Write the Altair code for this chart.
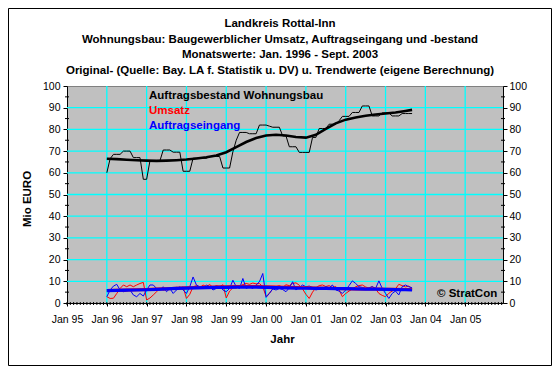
import altair as alt
import pandas as pd

FONT = "Liberation Sans"

# ---------------- data ----------------
# monthly values Jan 1996 .. Sep 2003 (93 months); month index counted from Jan 1995
start_index = 12
auftragsbestand = [
    60, 66.5, 68.5, 68.5, 68.5, 70, 70, 70, 67, 67, 67, 57,
    57, 65.5, 65.5, 65.5, 65.5, 70.5, 70.5, 70.5, 69.5, 69.5, 69.5, 60.7,
    60.7, 60.7, 66.7, 66.7, 66.7, 66.7, 66.7, 67.5, 67.5, 67.5, 67.5, 62.2,
    62.2, 62.2, 69.7, 75, 78.6, 78.6, 78.6, 78, 78, 78, 82, 82,
    82, 81.5, 81, 81, 81, 77, 77, 72, 72, 72, 69.4, 69.4,
    69.4, 69.4, 76.3, 76.3, 80.4, 80.4, 80.4, 82.4, 82.4, 82.4, 84, 86,
    86, 86, 87.8, 87.8, 87.8, 90.8, 90.8, 90.8, 86.2, 86.2, 86.2, 87.6,
    87.6, 87.6, 86.2, 86.2, 86.2, 87.3, 87.3, 87.3, 87.3,
]
umsatz = [
    2.9, 2.1, 2.2, 4.4, 6.7, 8.3, 7.5, 8.3, 7.5, 8.3, 9.0, 9.5,
    1.4, 2.3, 3.7, 5.2, 6.7, 6.0, 6.2, 7.0, 6.5, 7.2, 6.8, 7.4,
    2.1, 4.0, 7.5, 8.0, 7.0, 8.3, 7.5, 8.5, 7.2, 8.0, 7.6, 8.4,
    2.3, 5.5, 7.0, 6.8, 7.8, 8.5, 9.0, 8.6, 9.2, 8.8, 9.0, 7.5,
    3.0, 4.5, 6.5, 7.5, 8.0, 7.2, 8.4, 8.0, 9.0, 9.3, 8.2, 6.5,
    4.0, 2.1, 5.0, 7.0, 8.0, 8.3, 7.6, 8.0, 7.2, 7.6, 6.0, 2.9,
    4.4, 5.5, 6.5, 7.5, 8.0, 8.3, 7.4, 6.8, 7.6, 6.5, 4.4, 3.5,
    2.9, 4.5, 5.5, 6.5, 8.6, 8.0, 7.4, 7.8, 6.7,
]
auftragseingang = [
    2.9, 6.0, 7.8, 8.6, 6.0, 5.2, 5.5, 6.0, 3.7, 2.9, 4.4, 3.2,
    6.0, 8.3, 8.3, 6.7, 6.0, 7.5, 5.2, 6.7, 4.4, 6.0, 7.5, 6.0,
    4.4, 7.5, 12.0, 8.3, 7.5, 6.7, 8.3, 7.5, 6.0, 6.7, 7.8, 6.0,
    5.2, 6.7, 10.5, 7.5, 6.7, 11.3, 6.7, 7.5, 6.7, 8.3, 9.8, 13.6,
    2.6, 4.4, 6.5, 6.0, 6.7, 6.2, 5.2, 7.0, 9.8, 6.0, 7.2, 8.3,
    7.5, 7.8, 7.2, 6.0, 6.4, 6.7, 7.5, 7.0, 8.3, 6.0, 5.5, 4.4,
    6.0, 8.0, 10.2, 9.0, 7.5, 7.2, 6.7, 7.0, 7.5, 6.7, 10.2, 6.7,
    4.4, 2.1, 4.4, 5.5, 3.7, 7.5, 8.3, 7.5, 7.0,
]
# trend values (read every 3rd month + last month)
trend_offsets = [0, 3, 6, 9, 12, 15, 18, 21, 24, 27, 30, 33, 36, 39, 42, 45,
                 48, 51, 54, 57, 60, 63, 66, 69, 72, 75, 78, 81, 84, 87, 90, 92]
trend_bestand = [66.5, 66.3, 66.0, 65.8, 65.6, 65.5, 65.6, 65.8, 66.1, 66.6, 67.2, 68.0,
                 69.5, 71.8, 74.2, 76.0, 77.2, 77.5, 77.2, 76.5, 76.2, 77.5, 80.2, 82.8,
                 84.5, 85.5, 86.3, 86.9, 87.3, 87.8, 88.5, 89.0]
trend_umsatz = [5.8, 5.9, 6.0, 6.1, 6.2, 6.4, 6.6, 6.8, 7.0, 7.2, 7.3, 7.4,
                7.5, 7.6, 7.6, 7.6, 7.5, 7.4, 7.3, 7.2, 7.0, 6.9, 6.8, 6.7,
                6.6, 6.5, 6.5, 6.4, 6.3, 6.3, 6.2, 6.2]
trend_eingang = [5.7, 5.8, 5.9, 6.0, 6.1, 6.3, 6.5, 6.7, 6.9, 7.0, 7.1, 7.2,
                 7.2, 7.3, 7.3, 7.3, 7.2, 7.1, 7.0, 6.9, 6.8, 6.7, 6.7, 6.6,
                 6.6, 6.5, 6.4, 6.4, 6.3, 6.2, 6.1, 6.0]

title_lines = [
    "Landkreis Rottal-Inn",
    "Wohnungsbau: Baugewerblicher Umsatz, Auftragseingang und -bestand",
    "Monatswerte: Jan. 1996 - Sept. 2003",
    "Original- (Quelle: Bay. LA f. Statistik u. DV) u. Trendwerte (eigene Berechnung)",
]
legend_texts = ["Auftragsbestand Wohnungsbau", "Umsatz", "Auftragseingang"]
legend_colors = ["black", "#FF0000", "#0000FF"]
year_ticks = list(range(0, 121, 12))        # Jan 95 .. Jan 05
y_ticks = list(range(0, 101, 10))
y_minor = list(range(5, 100, 10))
grid_y = list(range(10, 91, 10))
grid_x = list(range(12, 121, 12))
month_ticks = list(range(0, 132))

# ---------------- layout ----------------
W, H = 436, 217
XMAX = 131.4
xs = alt.Scale(domain=[0, XMAX], nice=False, zero=False)
ys = alt.Scale(domain=[0, 100], nice=False)

def series_df(offsets, values):
    return pd.DataFrame({"m": [start_index + o for o in offsets], "v": values})

monthly_off = list(range(len(auftragsbestand)))
df_best = series_df(monthly_off, auftragsbestand)
df_ums = series_df(monthly_off, umsatz)
df_ein = series_df(monthly_off, auftragseingang)
df_tb = series_df(trend_offsets, trend_bestand)
df_tu = series_df(trend_offsets, trend_umsatz)
df_te = series_df(trend_offsets, trend_eingang)

x_axis = alt.Axis(values=year_ticks,
                  labelExpr="'Jan ' + format((datum.value / 12 + 95) % 100, '02d')",
                  tickSize=3, tickColor="black", domainColor="black",
                  labelColor="black", labelFont=FONT, labelFontSize=10.5,
                  labelPadding=8, grid=False, title=None, labelFlush=False,
                  labelOverlap=False)
left_axis = alt.Axis(orient="left", values=y_ticks, tickSize=4, tickColor="black",
                     domainColor="black", labelColor="black", labelFont=FONT,
                     labelFontSize=10.5, labelPadding=3, grid=False, title=None)
right_axis = alt.Axis(orient="right", values=y_ticks, tickSize=4, tickColor="black",
                      domainColor="black", labelColor="black", labelFont=FONT,
                      labelFontSize=10.5, labelPadding=2, grid=False, title=None)

vgrid = alt.Chart(pd.DataFrame({"m": grid_x})).mark_rule(color="#00FFFF", strokeWidth=1.3).encode(
    x=alt.X("m:Q", scale=xs, axis=x_axis), y=alt.value(0), y2=alt.value(H))
hgrid = alt.Chart(pd.DataFrame({"v": grid_y})).mark_rule(color="#00FFFF", strokeWidth=1.3).encode(
    y=alt.Y("v:Q", scale=ys, axis=left_axis), x=alt.value(0), x2=alt.value(W))
right_minor = alt.Chart(pd.DataFrame({"v": y_minor})).mark_rule(color="black").encode(
    y=alt.Y("v:Q", scale=ys, axis=right_axis), x=alt.value(W - 2), x2=alt.value(W + 2))
left_minor = alt.Chart(pd.DataFrame({"v": y_minor})).mark_rule(color="black").encode(
    y=alt.Y("v:Q", scale=ys, axis=None), x=alt.value(-2), x2=alt.value(2))
mticks = alt.Chart(pd.DataFrame({"m": month_ticks})).mark_rule(color="black").encode(
    x=alt.X("m:Q", scale=xs, axis=None), y=alt.value(H - 1), y2=alt.value(H + 2))

def line(df, color, width):
    return alt.Chart(df).mark_line(color=color, strokeWidth=width).encode(
        x=alt.X("m:Q", scale=xs, axis=None), y=alt.Y("v:Q", scale=ys, axis=None))

lines = [
    line(df_best, "black", 1),
    line(df_tb, "black", 2.6),
    line(df_ums, "#FF0000", 1),
    line(df_ein, "#0000FF", 1),
    line(df_tu, "#FF0000", 3),
    line(df_te, "#0000FF", 3.2),
]

def text(t, x, y, size=11.5, color="black", bold=True, align="left", baseline="middle", angle=0):
    kw = dict(font=FONT, fontSize=size, color=color, align=align, baseline=baseline,
              fontWeight="bold" if bold else "normal")
    if angle:
        kw["angle"] = angle
    return alt.Chart(pd.DataFrame({"t": [t]})).mark_text(**kw).encode(
        text="t:N", x=alt.value(x), y=alt.value(y))

texts = []
for i, t in enumerate(title_lines):
    texts.append(text(t, 213, -59 + 15.5 * i, align="center", baseline="alphabetic"))
for i, (t, c) in enumerate(zip(legend_texts, legend_colors)):
    texts.append(text(t, 82, 9.5 + 15.2 * i, color=c))
texts.append(text("© StratCon", 370, 208))
texts.append(text("Mio EURO", -39, 113, angle=270, align="center"))
texts.append(text("Jahr", 215.5, 254, align="center"))

border = alt.Chart(pd.DataFrame({"a": [0]})).mark_rect(
    fillOpacity=0, stroke="black", strokeWidth=1).encode(
    x=alt.value(-58.5), x2=alt.value(484.5), y=alt.value(-77.5), y2=alt.value(279.5))

chart = alt.layer(vgrid, hgrid, right_minor, left_minor, mticks, *lines, *texts, border).resolve_axis(
    x="independent", y="independent"
).properties(
    width=W, height=H, autosize="none",
    padding={"left": 59, "top": 78, "right": 49, "bottom": 63},
).configure(background="white").configure_view(fill="#C0C0C0", stroke="#808080", strokeWidth=1)

chart.save("out.html", embed_options={"renderer": "svg", "actions": False})
